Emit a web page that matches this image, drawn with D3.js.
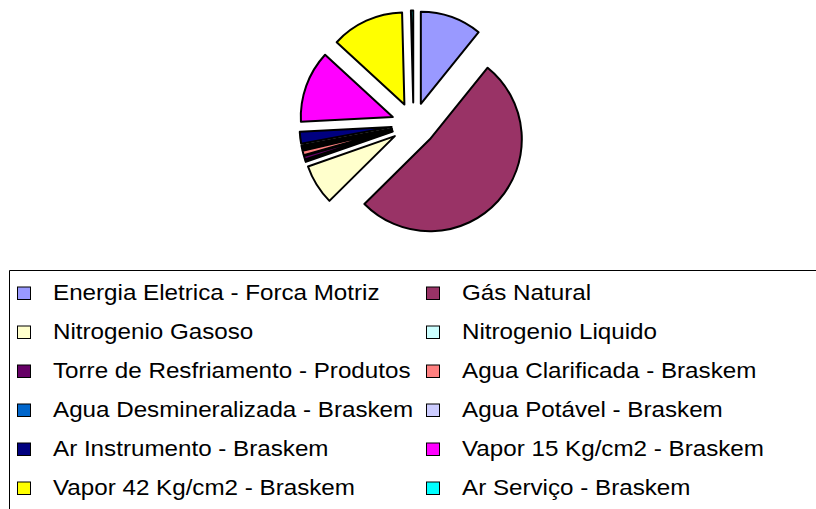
<!DOCTYPE html>
<html>
<head>
<meta charset="utf-8">
<script src="https://cdn.jsdelivr.net/npm/d3@7"></script>
<style>
  body { margin: 0; background: #fff; }
  svg { display: block; font-family: "Liberation Sans", Arial, sans-serif; }
</style>
</head>
<body>
<div id="chart"></div>
<script>
const categories = [
  "Energia Eletrica - Forca Motriz", "Gás Natural",
  "Nitrogenio Gasoso", "Nitrogenio Liquido",
  "Torre de Resfriamento - Produtos", "Agua Clarificada - Braskem",
  "Agua Desmineralizada - Braskem", "Agua Potável - Braskem",
  "Ar Instrumento - Braskem", "Vapor 15 Kg/cm2 - Braskem",
  "Vapor 42 Kg/cm2 - Braskem", "Ar Serviço - Braskem"
];
const values = [10.8, 51.7, 7.05, 0.33, 0.61, 0.78, 0.36, 0.36, 2.08, 12.64, 12.75, 0.4];
const colors = ["#9999ff", "#993366", "#ffffcc", "#ccffff", "#660066", "#ff8080",
  "#0066cc", "#ccccff", "#000080", "#ff00ff", "#ffff00", "#00ffff"];

const width = 816, height = 509;
const cx = 413.5, cy = 124.5, radius = 92, explode = 22;

const svg = d3.select("#chart").append("svg")
  .attr("width", width).attr("height", height);

const pie = d3.pie().sort(null).value(d => d);
const arc = d3.arc().innerRadius(0).outerRadius(radius);
const color = d3.scaleOrdinal().domain(categories).range(colors);

const slices = pie(values);

svg.append("g")
  .attr("transform", "translate(" + cx + "," + cy + ")")
  .selectAll("path")
  .data(slices)
  .enter()
  .append("path")
  .attr("d", arc)
  .attr("transform", d => {
    const a = (d.startAngle + d.endAngle) / 2;
    return "translate(" + (explode * Math.sin(a)) + "," + (-explode * Math.cos(a)) + ")";
  })
  .attr("fill", (d, i) => color(categories[i]))
  .attr("stroke", "#000")
  .attr("stroke-width", 2)
  .attr("stroke-linejoin", "round");

// legend box (runs off the right and bottom edge)
svg.append("path")
  .attr("d", "M9.5," + height + "V270.5H" + width)
  .attr("fill", "none")
  .attr("stroke", "#000")
  .attr("stroke-width", 1);

const colX = d3.scaleOrdinal().domain([0, 1]).range([17, 426]);
const rowY = d3.scaleLinear().domain([0, 5]).range([299.5, 494.5]);

const items = svg.append("g").selectAll("g")
  .data(categories)
  .enter()
  .append("g")
  .attr("transform", (d, i) => "translate(" + colX(i % 2) + "," + rowY(Math.floor(i / 2)) + ")");

items.append("rect")
  .attr("x", 0.5).attr("y", -12.5)
  .attr("width", 13).attr("height", 12.5)
  .attr("fill", d => color(d))
  .attr("stroke", "#000")
  .attr("stroke-width", 1);

items.append("text")
  .attr("transform", "translate(36,0) scale(1.1,1)")
  .attr("font-size", 22)
  .attr("fill", "#000")
  .text(d => d);
</script>
</body>
</html>
